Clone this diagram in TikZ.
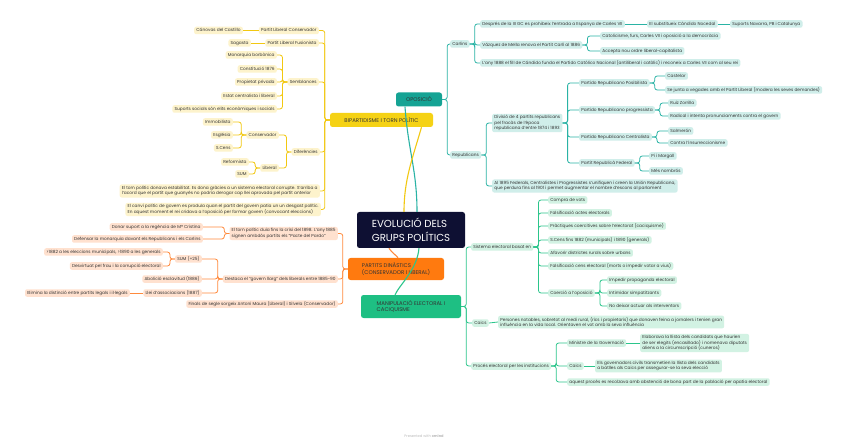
\documentclass[tikz,border=0pt]{standalone}
\usepackage{fontspec}
\setmainfont{Poppins}
\definecolor{navy}{HTML}{0E1033}
\definecolor{txt}{HTML}{333333}
\definecolor{ymain}{HTML}{F5D215}
\definecolor{yline}{HTML}{F2C811}
\definecolor{ylt}{HTML}{FDF3CC}
\definecolor{omain}{HTML}{FF7A0F}
\definecolor{oline}{HTML}{FF8A3D}
\definecolor{olt}{HTML}{FFE1CF}
\definecolor{tmain}{HTML}{15A394}
\definecolor{tline}{HTML}{2AB3A5}
\definecolor{tlt}{HTML}{D0EEEA}
\definecolor{gmain}{HTML}{1EBF83}
\definecolor{gline}{HTML}{2BC58B}
\definecolor{glt}{HTML}{D2F2E3}
\definecolor{wm}{HTML}{BBBBBB}
\tikzset{
  sub/.style={rounded corners=2pt, inner xsep=2.2pt, inner ysep=1.6pt, text=txt, align=left,
    font=\fontsize{4.3}{5.3}\selectfont},
  one/.style={text height=3.2pt, text depth=1.1pt},
  ys/.style={sub, one, fill=ylt}, ym/.style={sub, fill=ylt},
  os/.style={sub, one, fill=olt}, om/.style={sub, fill=olt},
  ts/.style={sub, one, fill=tlt}, tm/.style={sub, fill=tlt},
  gs/.style={sub, one, fill=glt}, gm/.style={sub, fill=glt},
  mainbox/.style={rounded corners=2.5pt, inner sep=0pt, text=txt, align=left,
    font=\fontsize{5.4}{6.6}\selectfont},
  L/.style={to path={-- ++(-5,0) |- (\tikztotarget)}},
  R/.style={to path={-- ++(5,0) |- (\tikztotarget)}},
  cn/.style={line width=0.8pt, rounded corners=2.5pt},
  yl/.style={cn, draw=yline}, ol/.style={cn, draw=oline},
  tl/.style={cn, draw=tline}, gl/.style={cn, draw=gline},
}
\begin{document}
\begin{tikzpicture}[x=1pt,y=-1pt]
\fill[white] (0,0) rectangle (848,446);
\useasboundingbox (0,0) rectangle (848,446);

% ---------- central and main topics ----------
\node[fill=navy, text=white, rounded corners=2.5pt, minimum width=108pt, minimum height=36pt,
  align=left, inner sep=0pt, font=\fontsize{10.2}{13.5}\selectfont] (cen) at (411,230)
  {EVOLUCIÓ DELS\\GRUPS POLÍTICS};
\node[mainbox, fill=tmain, minimum width=46pt, minimum height=14pt] (opo) at (419,99.5) {OPOSICIÓ};
\node[mainbox, fill=ymain, minimum width=103pt, minimum height=14pt] (bip) at (381.5,120) {BIPARTIDISME I TORN POLÍTIC};
\node[mainbox, fill=omain, minimum width=96pt, minimum height=22pt] (par) at (396,269) {PARTITS DINÀSTICS\\(CONSERVADOR I LIBERAL)};
\node[mainbox, fill=gmain, minimum width=100pt, minimum height=23pt] (man) at (411,306.5) {MANIPULACIÓ ELECTORAL I\\CACIQUISME};

\draw[line width=1.1pt, tline] ([xshift=-14pt]opo.south) .. controls (408,150) and (417,170) .. ([xshift=6pt]cen.north);
\draw[line width=1.1pt, yline] ([xshift=40pt]bip.south) .. controls (412,160) and (404,180) .. ([xshift=-7pt]cen.north);
\draw[line width=1.1pt, oline] ([xshift=-22pt]cen.south) .. controls (392,253) and (396,255) .. ([xshift=2pt]par.north);
\draw[line width=1.1pt, gline] ([xshift=8pt]cen.south) .. controls (417,270) and (400,284) .. ([xshift=-16pt]man.north);

% ---------- yellow branch ----------
\node[ys, anchor=east] (plc) at (319,30.5) {Partit Liberal Conservador};
\node[ys, anchor=east] (cano) at (243,30.5) {Cánovas del Castillo};
\node[ys, anchor=east] (plf) at (319,43) {Partit Liberal Fusionista};
\node[ys, anchor=east] (sag) at (251,43) {Sagasta};
\node[ys, anchor=east] (semb) at (319,82) {Semblances};
\node[ys, anchor=east] (mon) at (277,55) {Monarquia borbònica};
\node[ys, anchor=east] (con) at (277,69) {Constitució 1876};
\node[ys, anchor=east] (prop) at (277,82) {Propietat privada};
\node[ys, anchor=east] (estat) at (277,96) {Estat centralista i liberal};
\node[ys, anchor=east] (sup) at (277,109) {Suports socials són elits econòmiques i socials};
\node[ys, anchor=east] (dif) at (320,152) {Diferències};
\node[ys, anchor=east] (cons) at (279,135) {Conservador};
\node[ys, anchor=east] (imm) at (233,122) {Immobilista};
\node[ys, anchor=east] (esg) at (233,135) {Església};
\node[ys, anchor=east] (scens) at (233,148) {S.Cens};
\node[ys, anchor=east] (lib) at (279,168) {Liberal};
\node[ys, anchor=east] (ref) at (249,162) {Reformista};
\node[ys, anchor=east] (sum) at (249,174) {SUM};
\node[ym, anchor=east] (torn) at (320,191) {El torn polític donava estabilitat. Es dona gràcies a un sistema electoral corrupte. S'arriba a\\l'acord que el partit que guanyés no podria derogar cap llei aprovada pel partit anterior};
\node[ym, anchor=east] (canvi) at (321,209.5) {El canvi polític de govern es produïa quan el partit del govern patia un un desgast polític.\\En aquest moment el rei cridava a l'oposició per formar govern (convocant eleccions)};

\foreach \c in {plc,plf,semb,dif,torn,canvi} \draw[yl] (bip.west) to[L] (\c.east);
\draw[yl] (plc.west) -- (cano.east);
\draw[yl] (plf.west) -- (sag.east);
\foreach \c in {mon,con,prop,estat,sup} \draw[yl] (semb.west) to[L] (\c.east);
\foreach \c in {cons,lib} \draw[yl] (dif.west) to[L] (\c.east);
\foreach \c in {imm,esg,scens} \draw[yl] (cons.west) to[L] (\c.east);
\foreach \c in {ref,sum} \draw[yl] (lib.west) to[L] (\c.east);

% ---------- orange branch ----------
\node[om, anchor=east] (pardo) at (338,233.5) {El torn polític duia fins la crisi del 1898. L'any 1885\\signen ambdós partits els “Pacte del Pardo”};
\node[os, anchor=east] (mcr) at (203,227) {Donar suport a la regència de Mª Cristina};
\node[os, anchor=east] (defm) at (203,239) {Defensar la monarquia davant els Republicans i els Carlins};
\node[os, anchor=east] (llarg) at (338,279) {Destaca el “govern llarg” dels liberals entre 1885-90};
\node[os, anchor=east] (sumb) at (202,259) {SUM (+25)};
\node[os, anchor=east] (sa) at (163,252) {>1882 a les eleccions municipals, >1890 a les generals};
\node[os, anchor=east] (sb) at (163,266) {Desvirtuat pel frau i la corrupció electoral};
\node[os, anchor=east] (abol) at (202,279) {Abolició esclavitud (1886)};
\node[os, anchor=east] (llei) at (202,293) {Llei d'associacions (1887)};
\node[os, anchor=east] (elim) at (130,293) {Elimina la distinció entre partits legals i il·legals};
\node[os, anchor=east] (maura) at (338,304) {Finals de segle sorgeix Antoni Maura (Liberal) i Silvela (Conservador)};

\foreach \c in {pardo,llarg,maura} \draw[ol] (par.west) to[L] (\c.east);
\foreach \c in {mcr,defm} \draw[ol] (pardo.west) to[L] (\c.east);
\foreach \c in {sumb,abol,llei} \draw[ol] (llarg.west) to[L] (\c.east);
\foreach \c in {sa,sb} \draw[ol] (sumb.west) to[L] (\c.east);
\draw[ol] (llei.west) -- (elim.east);

% ---------- teal branch ----------
\node[ts, anchor=west] (carl) at (450,44) {Carlins};
\node[ts, anchor=west] (d1) at (480,24) {Després de la III GC es prohibeix l'entrada a Espanya de Carles VII};
\node[ts, anchor=west] (noc) at (647,24) {El substitueix Cándido Nocedal};
\node[ts, anchor=west] (nav) at (730,24) {Suports Navarra, PB i Catalunya};
\node[ts, anchor=west] (vm) at (480,45) {Vázquez de Mella renova el Partit Carlí al 1886};
\node[ts, anchor=west] (cat) at (600,36) {Catolicisme, furs, Carles VII i oposició a la democràcia};
\node[ts, anchor=west] (acc) at (600,51) {Accepta nou ordre liberal-capitalista};
\node[ts, anchor=west] (fill) at (480,63) {L'any 1888 el fill de Cándido funda el Partido Católico Nacional (antiliberal i catòlic) i reconeix a Carles VII com al seu rei};
\node[ts, anchor=west] (rep) at (450,155) {Republicans};
\node[tm, anchor=west] (div) at (492,123) {Divisió de 4 partits republicans\\pel fracàs de l'època\\republicana d'entre 1874 i 1893};
\node[ts, anchor=west] (pos) at (579,83) {Partido Republicano Posibilista};
\node[ts, anchor=west] (cast) at (665,76) {Castelar};
\node[ts, anchor=west] (junta) at (665,90) {Se junta a vegades amb el Partit Liberal (modera les seves demandes)};
\node[ts, anchor=west] (prog) at (579,110) {Partido Republicano progressista};
\node[ts, anchor=west] (ruiz) at (668,103) {Ruiz Zorrilla};
\node[ts, anchor=west] (rad) at (668,116) {Radical i intenta pronunciaments contra el govern};
\node[ts, anchor=west] (cent) at (579,137) {Partido Republicano Centralista};
\node[ts, anchor=west] (salm) at (668,131) {Salmerón};
\node[ts, anchor=west] (contra) at (668,143) {Contra l'insurreccionisme};
\node[ts, anchor=west] (fed) at (579,163) {Partit Republicà Federal};
\node[ts, anchor=west] (pi) at (649,156) {Pi i Margall};
\node[ts, anchor=west] (mes) at (649,171) {Més nombrós};
\node[tm, anchor=west] (unio) at (492,186) {Al 1895 Federals, Centralistes i Progressistes s'unifiquen i creen la Unión Republicana,\\que perdura fins al 1901 i permet augmentar el nombre d'escons al parlament};

\foreach \c in {carl,rep} \draw[tl] (opo.east) to[R] (\c.west);
\foreach \c in {d1,vm,fill} \draw[tl] (carl.east) to[R] (\c.west);
\draw[tl] (d1.east) -- (noc.west);
\draw[tl] (noc.east) -- (nav.west);
\foreach \c in {cat,acc} \draw[tl] (vm.east) to[R] (\c.west);
\foreach \c in {div,unio} \draw[tl] (rep.east) to[R] (\c.west);
\foreach \c in {pos,prog,cent,fed} \draw[tl] (div.east) to[R] (\c.west);
\foreach \c in {cast,junta} \draw[tl] (pos.east) to[R] (\c.west);
\foreach \c in {ruiz,rad} \draw[tl] (prog.east) to[R] (\c.west);
\foreach \c in {salm,contra} \draw[tl] (cent.east) to[R] (\c.west);
\foreach \c in {pi,mes} \draw[tl] (fed.east) to[R] (\c.west);

% ---------- green branch ----------
\node[gs, anchor=west] (sis) at (471,247) {Sistema electoral basat en};
\node[gs, anchor=west] (compra) at (548,200) {Compra de vots};
\node[gs, anchor=west] (fals) at (548,213) {Falsificació actes electorals};
\node[gs, anchor=west] (prac) at (548,226) {Pràctiques coercitives sobre l'electorat (caciquisme)};
\node[gs, anchor=west] (scb) at (548,240) {S.Cens fins 1882 (municipals) i 1890 (generals)};
\node[gs, anchor=west] (afav) at (548,253) {Afavorir districtes rurals sobre urbans};
\node[gs, anchor=west] (fcens) at (548,266) {Falsificació cens electoral (morts o impedir votar a vius)};
\node[gs, anchor=west] (coer) at (548,293) {Coerció a l'oposició};
\node[gs, anchor=west] (imp) at (607,280) {Impedir propaganda electoral};
\node[gs, anchor=west] (intim) at (607,293) {Intimidar simpatitzants};
\node[gs, anchor=west] (nodx) at (607,306) {No deixar actuar als interventors};
\node[gs, anchor=west] (cac) at (472,323) {Caics};
\node[gm, anchor=west] (pers) at (498,322) {Persones notables, sobretot al medi rural, (rics i propietaris) que donaven feina a jornalers i tenien gran\\influència en la vida local. Orientaven el vot amb la seva influència};
\node[gs, anchor=west] (proc) at (471,366) {Procés electoral per les institucions};
\node[gs, anchor=west] (mini) at (567,343) {Ministre de la Governació};
\node[gm, anchor=west] (elab) at (640,343) {Elaborava la llista dels candidats que haurien\\de ser elegits (encasillado) i nomenava diputats\\aliens a la circumscripció (cuneros)};
\node[gs, anchor=west] (cacb) at (567,366) {Caics};
\node[gm, anchor=west] (gov) at (595,366) {Els governadors civils transmetien la llista dels candidats\\a batlles als Caics per assegurar-se la seva elecció};
\node[gs, anchor=west] (aq) at (567,382) {aquest procés es recolzava amb abstenció de bona part de la població per apatia electoral};

\foreach \c in {sis,cac,proc} \draw[gl] (man.east) to[R] (\c.west);
\foreach \c in {compra,fals,prac,scb,afav,fcens,coer} \draw[gl] (sis.east) to[R] (\c.west);
\foreach \c in {imp,intim,nodx} \draw[gl] (coer.east) to[R] (\c.west);
\draw[gl] (cac.east) -- (pers.west);
\foreach \c in {mini,cacb,aq} \draw[gl] (proc.east) to[R] (\c.west);
\draw[gl] (mini.east) -- (elab.west);
\draw[gl] (cacb.east) -- (gov.west);

% ---------- watermark ----------
\node[text=wm, font=\fontsize{3.6}{4}\selectfont] (wmk) at (424,436) {Presented with \textbf{xmind}};
\end{tikzpicture}
\end{document}
